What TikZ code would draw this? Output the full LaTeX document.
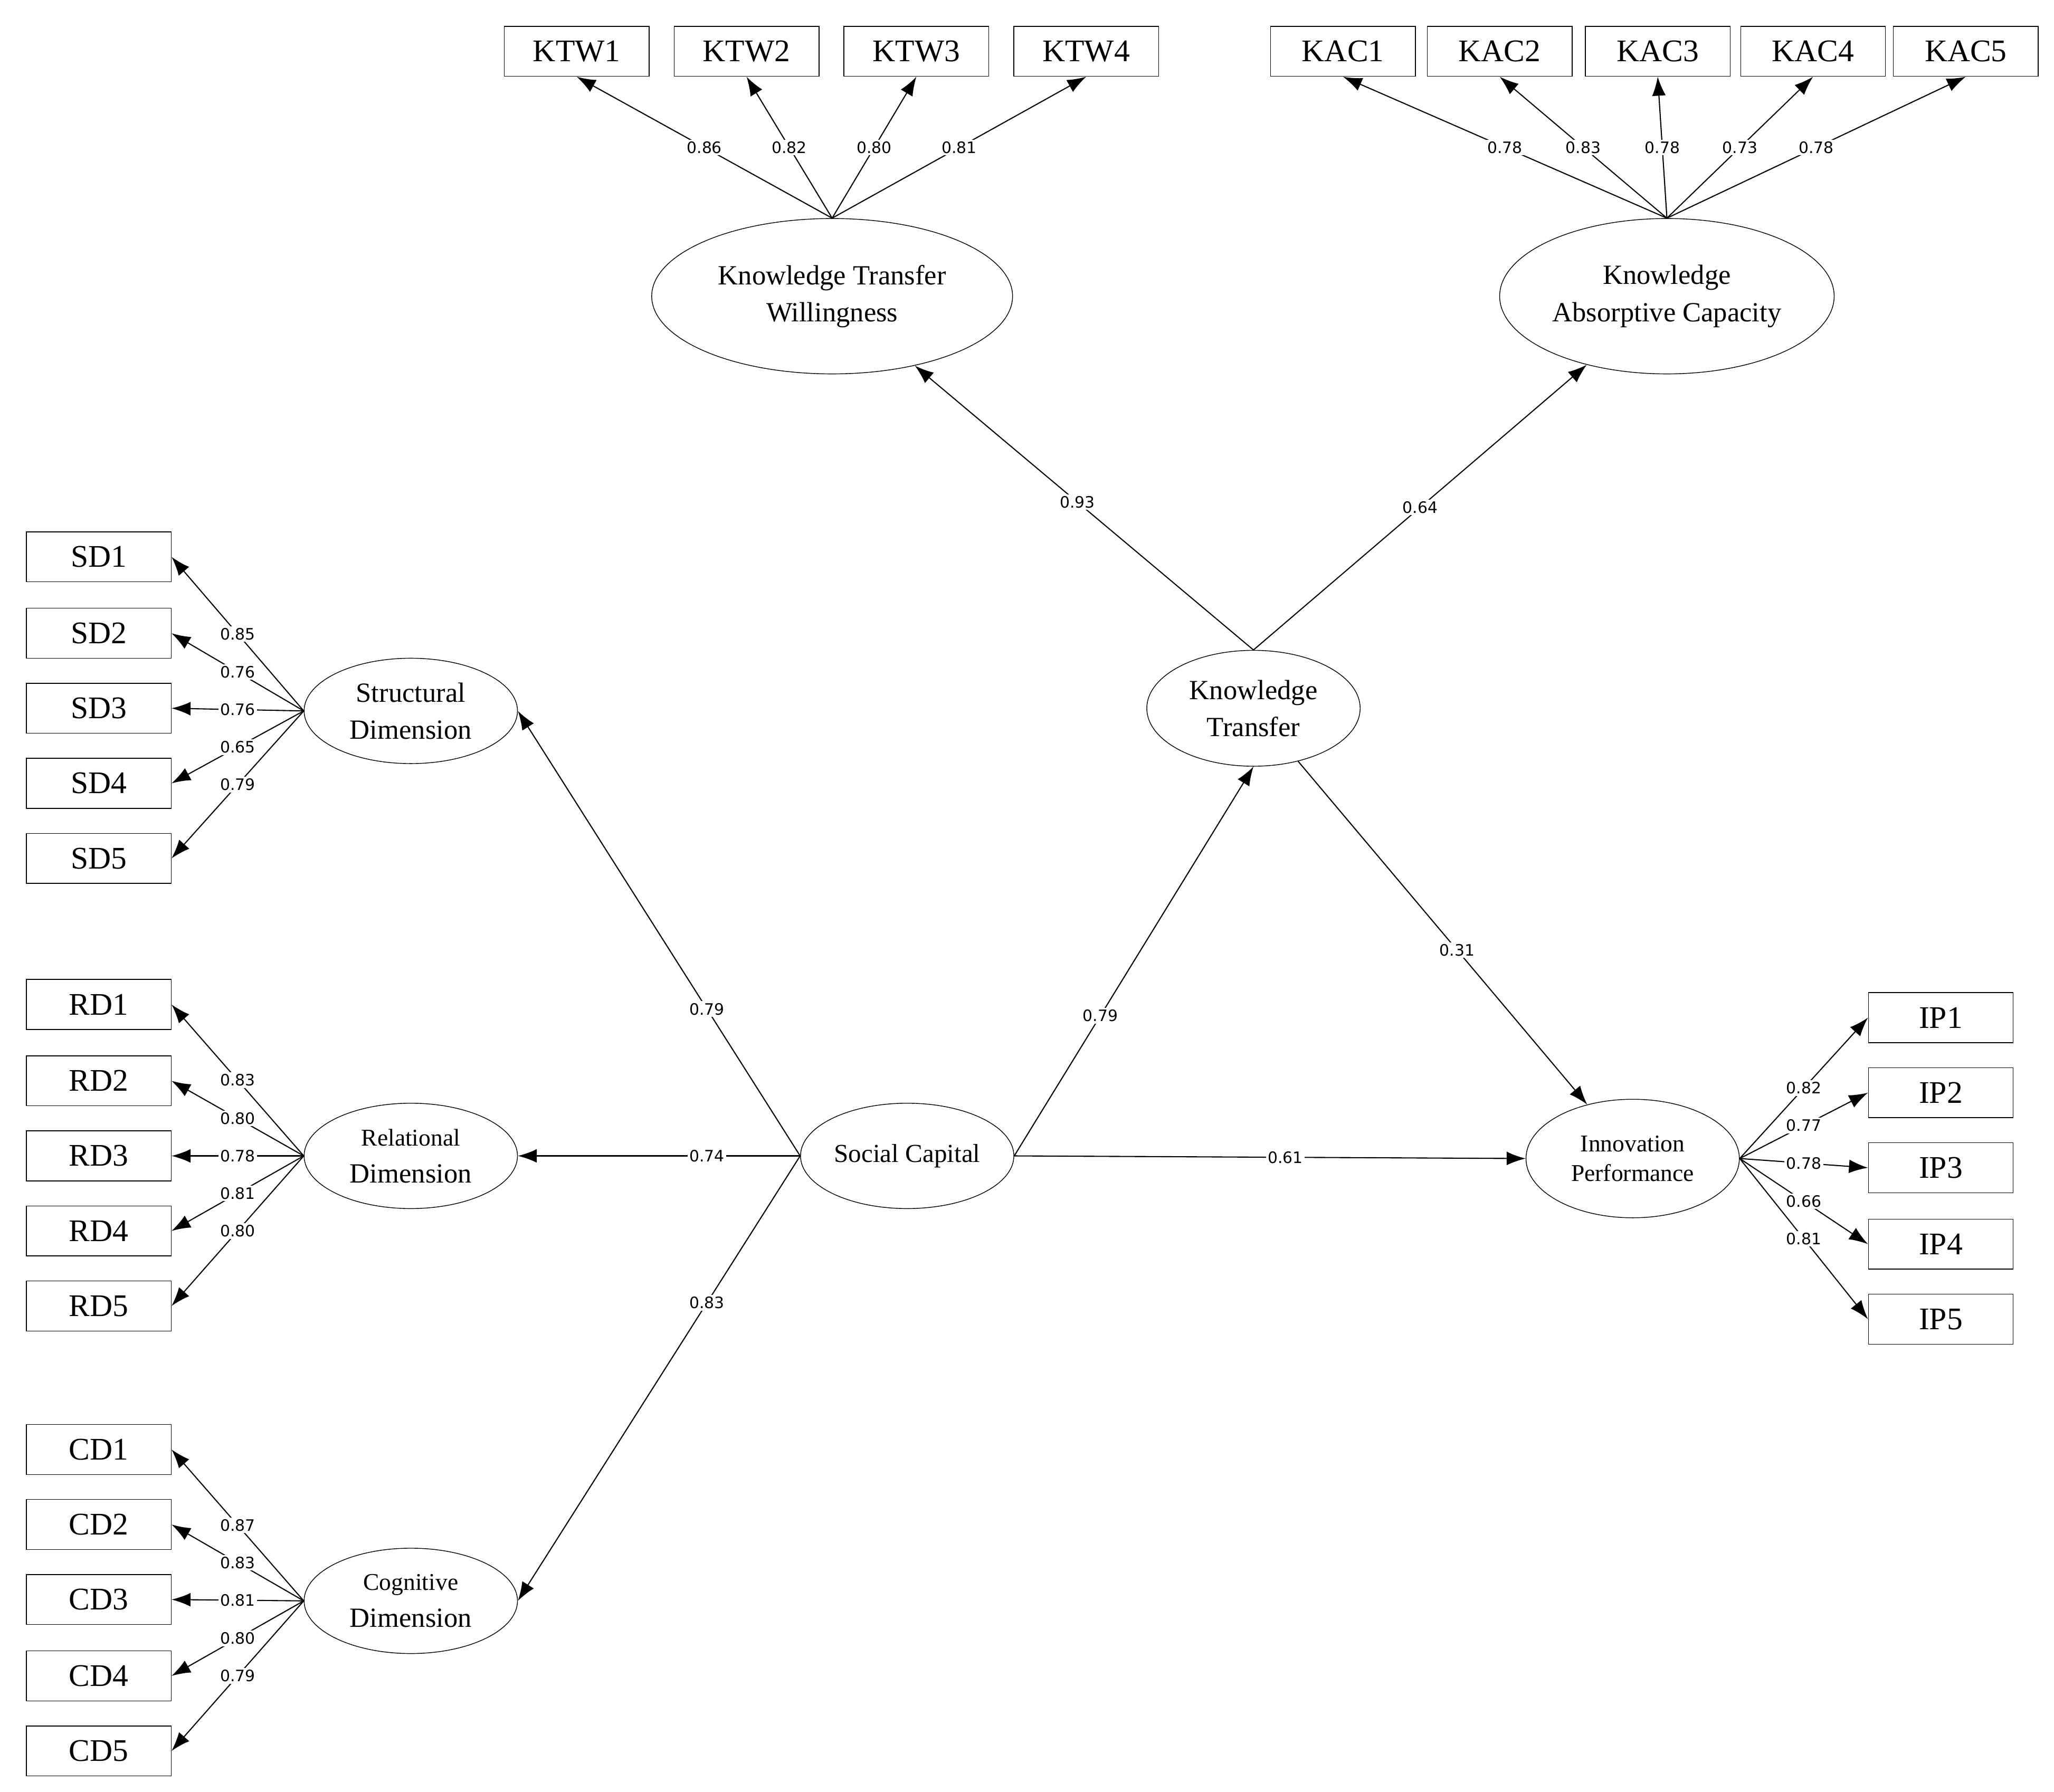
\documentclass[tikz,border=0pt]{standalone}
\usepackage{fontspec}
\setmainfont{Liberation Serif}
\newfontfamily\loadfont{DejaVu Sans}
\usetikzlibrary{arrows.meta,shapes.geometric}

\begin{document}
\begin{tikzpicture}[x=0.025cm,y=-0.025cm]
\tikzset{item/.style = {shape=rectangle,draw,minimum width=2.75cm,minimum height=0.95cm,font=\fontsize{17}{20}\selectfont}}
\tikzset{latent/.style = {shape=ellipse,draw,align=center,inner sep=0pt,font=\fontsize{15}{20}\selectfont}}
\tikzset{edge/.style = {-{Latex[length=3.6mm,width=2.6mm]},line width=0.6pt}}
\tikzset{load/.style = {fill=white,inner sep=1pt,font=\loadfont\fontsize{8.5}{10}\selectfont}}
\useasboundingbox (0,0) rectangle (1560,1361);

% latent variables
\node[latent,minimum width=6.85cm,minimum height=2.95cm] (KTW) at (632,225) {Knowledge Transfer\\Willingness};
\node[latent,minimum width=6.35cm,minimum height=2.95cm] (KAC) at (1266,225) {Knowledge\\Absorptive Capacity};
\node[latent,minimum width=4.05cm,minimum height=2.2cm] (KT) at (952,538) {Knowledge\\Transfer};
\node[latent,minimum width=4.05cm,minimum height=2cm] (SD) at (312,540) {Structural\\Dimension};
\node[latent,minimum width=4.05cm,minimum height=2cm] (RD) at (312,878) {{\fontsize{13}{16}\selectfont Relational}\\Dimension};
\node[latent,minimum width=4.05cm,minimum height=2cm] (CD) at (312,1216) {{\fontsize{13}{16}\selectfont Cognitive}\\Dimension};
\node[latent,minimum width=4.05cm,minimum height=2cm,font=\fontsize{14}{18}\selectfont] (SC) at (689,878) {Social Capital};
\node[latent,minimum width=4.05cm,minimum height=2.25cm,font=\fontsize{13}{16}\selectfont] (IP) at (1240,880) {Innovation\\Performance};

% indicators
\foreach \i/\x/\l in {1/438/0.86,2/567/0.82,3/696/0.80,4/825/0.81} {
  \node[item] (KTW\i) at (\x,39) {KTW\i};
  \draw[edge] (KTW.north) -- node[load] {\l} (KTW\i.south);
}
\foreach \i/\x/\l in {1/1020/0.78,2/1139/0.83,3/1259/0.78,4/1377/0.73,5/1493/0.78} {
  \node[item] (KAC\i) at (\x,39) {KAC\i};
  \draw[edge] (KAC.north) -- node[load] {\l} (KAC\i.south);
}
\foreach \i/\y/\l in {1/423/0.85,2/481/0.76,3/538/0.76,4/595/0.65,5/652/0.79} {
  \node[item] (SD\i) at (75,\y) {SD\i};
  \draw[edge] (SD.west) -- node[load] {\l} (SD\i.east);
}
\foreach \i/\y/\l in {1/763/0.83,2/821/0.80,3/878/0.78,4/935/0.81,5/992/0.80} {
  \node[item] (RD\i) at (75,\y) {RD\i};
  \draw[edge] (RD.west) -- node[load] {\l} (RD\i.east);
}
\foreach \i/\y/\l in {1/1101/0.87,2/1158/0.83,3/1215/0.81,4/1273/0.80,5/1330/0.79} {
  \node[item] (CD\i) at (75,\y) {CD\i};
  \draw[edge] (CD.west) -- node[load] {\l} (CD\i.east);
}
\foreach \i/\y/\l in {1/773/0.82,2/830/0.77,3/887/0.78,4/945/0.66,5/1002/0.81} {
  \node[item] (IP\i) at (1474,\y) {IP\i};
  \draw[edge] (IP.east) -- node[load] {\l} (IP\i.west);
}

% structural paths
\draw[edge] (SC.west) -- node[load,pos=0.33] {0.79} (SD.east);
\draw[edge] (SC.west) -- node[load,pos=0.33] {0.74} (RD.east);
\draw[edge] (SC.west) -- node[load,pos=0.33] {0.83} (CD.east);
\draw[edge] (SC.east) -- node[load,pos=0.36] {0.79} (KT.south);
\draw[edge] (SC.east) -- node[load,pos=0.53] {0.61} (IP.west);
\draw[edge] (KT) -- node[load,pos=0.55] {0.31} (IP);
\draw[edge] (KT.north) -- node[load,pos=0.52] {0.93} (KTW);
\draw[edge] (KT.north) -- node[load,pos=0.5] {0.64} (KAC);

\end{tikzpicture}
\end{document}
